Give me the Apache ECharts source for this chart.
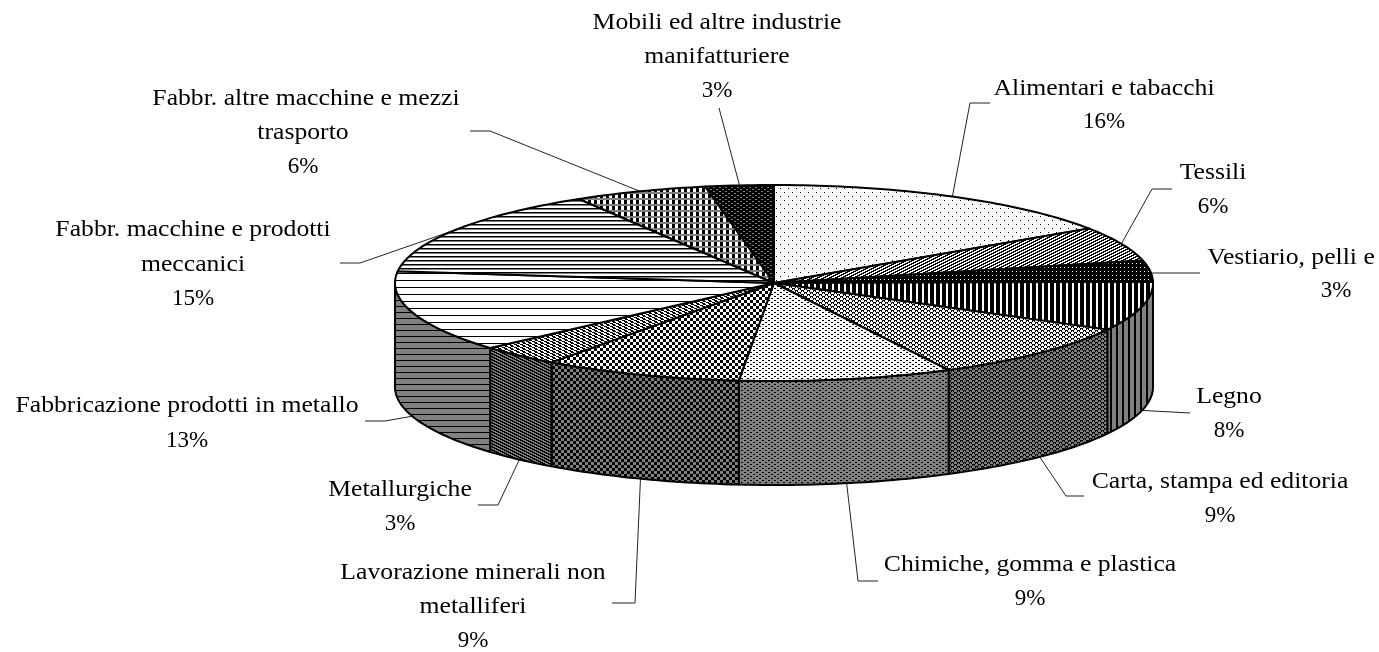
<!DOCTYPE html>
<html><head><meta charset="utf-8">
<style>html,body{margin:0;padding:0;background:#fff}#c{width:1379px;height:652px}</style>
<script src="https://cdn.jsdelivr.net/npm/echarts@6/dist/echarts.min.js"></script>
</head><body><div id="c"></div>
<script>
const categories = ['Alimentari e tabacchi','Tessili','Vestiario, pelli e','Legno','Carta, stampa ed editoria','Chimiche, gomma e plastica','Lavorazione minerali non metalliferi','Metallurgiche','Fabbricazione prodotti in metallo','Fabbr. macchine e prodotti meccanici','Fabbr. altre macchine e mezzi trasporto','Mobili ed altre industrie manifatturiere'];
const values = [15.6,5.7,3.49,8.1,9.49,9.1,8.5,3.49,13.43,14.5,5.7,2.9];
const percentTexts = ['16%','6%','3%','8%','9%','9%','9%','3%','13%','15%','6%','3%'];

// ---- layout (not data)
const CX=774, CY=283, RX=379, RY=98, H=104;
const labelLines = [
 [['Alimentari e tabacchi',1104,89],['16%',1104,122]],
 [['Tessili',1213,173],['6%',1213,207]],
 [['Vestiario, pelli e',1291,258],['3%',1336,291]],
 [['Legno',1229,397],['8%',1229,431]],
 [['Carta, stampa ed editoria',1220,482],['9%',1220,516]],
 [['Chimiche, gomma e plastica',1030,565],['9%',1030,599]],
 [['Lavorazione minerali non',473,573],['metalliferi',473,607],['9%',473,641]],
 [['Metallurgiche',400,490],['3%',400,524]],
 [['Fabbricazione prodotti in metallo',187,406],['13%',187,441]],
 [['Fabbr. macchine e prodotti',193,230],['meccanici',193,265],['15%',193,299]],
 [['Fabbr. altre macchine e mezzi',306,99],['trasporto',303,133],['6%',303,167]],
 [['Mobili ed altre industrie',717,23],['manifatturiere',717,57],['3%',717,91]]
];
const leaderElbows = [
 [[970,103],[990,103]],
 [[1152,189],[1172,189]],
 [[1150,273],[1200,273]],
 [[1190,413]],
 [[1066,496],[1084,496]],
 [[858,581],[878,581]],
 [[635,603],[612,603]],
 [[498,505],[478,505]],
 [[385,421],[365,421]],
 [[360,263],[340,263]],
 [[490,131],[470,131]],
 [[719,108]]
];
const carta=['###...','#.#...','...###','...#.#'];
const chim=['##....','......','...##.','......'];
const check=['###...','###...','###...','...###','...###','...###'];
const tiles = [
 {top:['#.......','........','........','........','....#...','........','........','........'], side:null},
 {top:['...###','.###..','##...#'], side:null},
 {top:['####','####','####','w###'], side:null},
 {top:['####..'], side:['##....']},
 {top:carta, side:carta},
 {top:chim, side:chim},
 {top:check, side:check},
 {top:['###...','.###..','#...##'], side:['###...','..###.','#...##']},
 {top:['#','.','.','.','.','.','.'], side:['#','.','.','.','.','.']},
 {top:['#','g','.','.'], side:null},
 {top:['gggggg','gggggg','###...','###...','###...','###...'], side:null},
 {top:['######','##gg##','######','g####g'], side:['######','##gg##','######','g####g']}
];

function makePattern(rows,bg){
  const h=rows.length,w=rows[0].length,c=document.createElement('canvas');
  c.width=w;c.height=h;const x=c.getContext('2d');
  rows.forEach((r,j)=>{for(let i=0;i<w;i++){
    const ch=r[i];
    x.fillStyle= ch==='#'?'#000':ch==='g'?'#808080':ch==='w'?'#fff':bg;
    x.fillRect(i,j,1,1);
  }});
  return {image:c,repeat:'repeat'};
}
const total=values.reduce((a,b)=>a+b,0);
const starts=[];values.reduce((s,v,i)=>(starts[i]=s,s+v),0);
const ang=p=>p/total*2*Math.PI;
const pt=(a,dy)=>[CX+RX*Math.sin(a),CY-RY*Math.cos(a)+(dy||0)];
function arc(a0,a1,dy){
  const n=Math.max(2,Math.ceil(Math.abs(a1-a0)/0.02)),o=[];
  for(let i=0;i<=n;i++)o.push(pt(a0+(a1-a0)*i/n,dy));
  return o;
}
function midPoint(i){
  const a=ang(starts[i]+values[i]/2);
  return pt(a,Math.cos(a)<0?H:0);
}
const data=values.map((v,i)=>[i,v]);
const topPat=tiles.map(t=>makePattern(t.top,'#fff'));
const sidePat=tiles.map(t=>t.side?makePattern(t.side,'#808080'):'#808080');
const line={stroke:'#000',lineWidth:2,lineJoin:'round'};

const chart=echarts.init(document.getElementById('c'),null,{renderer:'canvas'});
chart.setOption({
 animation:false,backgroundColor:'#fff',
 series:[
 {type:'custom',name:'leaders',coordinateSystem:'none',z:1,silent:true,data,
  renderItem(p){
    const i=p.dataIndex;
    return {type:'polyline',shape:{points:[midPoint(i)].concat(leaderElbows[i])},style:{stroke:'#222',lineWidth:1,fill:null}};
  }},
 {type:'custom',name:'pie',coordinateSystem:'none',z:2,silent:true,data,
  renderItem(p,api){
    const i=p.dataIndex,a0=ang(starts[i]),a1=ang(starts[i]+api.value(1));
    const ch=[];
    const w0=Math.max(a0,Math.PI/2),w1=Math.min(a1,Math.PI*1.5);
    if(w1>w0){
      const pts=arc(w0,w1,0).concat(arc(w1,w0,H));
      ch.push({type:'polygon',shape:{points:pts},style:Object.assign({fill:sidePat[i]},line)});
    }
    const pts=[[CX,CY]].concat(arc(a0,a1,0));
    ch.push({type:'polygon',shape:{points:pts},style:Object.assign({fill:topPat[i]},line)});
    return {type:'group',children:ch};
  }},
 {type:'custom',name:'labels',coordinateSystem:'none',z:3,silent:true,data,
  renderItem(p){
    const i=p.dataIndex,L=labelLines[i],n=L.length;
    return {type:'group',children:L.map((l,j)=>{
      const isPct=j===n-1;
      return {type:'text',x:l[1],y:l[2],scaleX:isPct?1:1.07,style:{
        text:isPct?percentTexts[i]:l[0],x:0,y:0,
        align:'center',verticalAlign:'middle',fill:'#000',
        font:(isPct?'23px':'24px')+' "Liberation Serif"'}};
    })};
  }}
 ]
});
</script></body></html>
